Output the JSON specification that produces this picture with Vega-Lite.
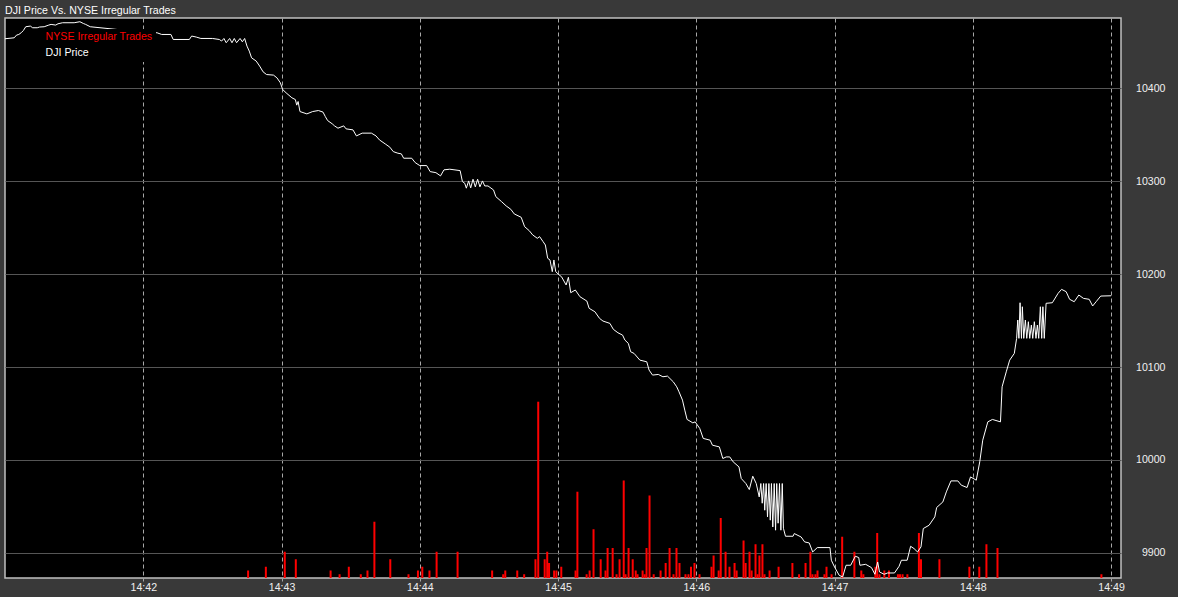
{
  "$schema": "https://vega.github.io/schema/vega-lite/v6.json",
  "autosize": {"type": "none"},
  "padding": {"left": 5, "top": 18, "right": 57, "bottom": 19},
  "width": 1116,
  "height": 560,
  "background": "#393939",
  "title": {"text": "DJI Price Vs. NYSE Irregular Trades", "anchor": "start", "frame": "group", "color": "#ffffff", "font": "Liberation Sans", "fontSize": 10.6, "fontWeight": "normal", "offset": 1},
  "datasets": {
    "trades": [
      {"time": "2010-05-06T14:42:45.500", "count": 2},
      {"time": "2010-05-06T14:42:53.200", "count": 3},
      {"time": "2010-05-06T14:43:01.400", "count": 7},
      {"time": "2010-05-06T14:43:06.200", "count": 5},
      {"time": "2010-05-06T14:43:21.300", "count": 2},
      {"time": "2010-05-06T14:43:25.200", "count": 1},
      {"time": "2010-05-06T14:43:29.200", "count": 3},
      {"time": "2010-05-06T14:43:34.400", "count": 1},
      {"time": "2010-05-06T14:43:37.300", "count": 2},
      {"time": "2010-05-06T14:43:40.300", "count": 15},
      {"time": "2010-05-06T14:43:47.200", "count": 5},
      {"time": "2010-05-06T14:43:55.100", "count": 1},
      {"time": "2010-05-06T14:43:59.200", "count": 2},
      {"time": "2010-05-06T14:44:01.100", "count": 3},
      {"time": "2010-05-06T14:44:04.200", "count": 2},
      {"time": "2010-05-06T14:44:07.300", "count": 7},
      {"time": "2010-05-06T14:44:16.400", "count": 7},
      {"time": "2010-05-06T14:44:31.400", "count": 2},
      {"time": "2010-05-06T14:44:36.200", "count": 1},
      {"time": "2010-05-06T14:44:37.100", "count": 2},
      {"time": "2010-05-06T14:44:42.300", "count": 2},
      {"time": "2010-05-06T14:44:45.300", "count": 1},
      {"time": "2010-05-06T14:44:50.200", "count": 5},
      {"time": "2010-05-06T14:44:51.400", "count": 47},
      {"time": "2010-05-06T14:44:54.200", "count": 5},
      {"time": "2010-05-06T14:44:55.300", "count": 7},
      {"time": "2010-05-06T14:44:56.100", "count": 4},
      {"time": "2010-05-06T14:44:58.300", "count": 2},
      {"time": "2010-05-06T14:44:59.300", "count": 2},
      {"time": "2010-05-06T14:45:01.400", "count": 3},
      {"time": "2010-05-06T14:45:07.600", "count": 2},
      {"time": "2010-05-06T14:45:08.400", "count": 23},
      {"time": "2010-05-06T14:45:12.400", "count": 1},
      {"time": "2010-05-06T14:45:13.700", "count": 2},
      {"time": "2010-05-06T14:45:15.400", "count": 13},
      {"time": "2010-05-06T14:45:18.500", "count": 5},
      {"time": "2010-05-06T14:45:20.600", "count": 2},
      {"time": "2010-05-06T14:45:21.500", "count": 8},
      {"time": "2010-05-06T14:45:23.700", "count": 8},
      {"time": "2010-05-06T14:45:25.400", "count": 1},
      {"time": "2010-05-06T14:45:26.700", "count": 5},
      {"time": "2010-05-06T14:45:28.500", "count": 26},
      {"time": "2010-05-06T14:45:29.300", "count": 1},
      {"time": "2010-05-06T14:45:30.600", "count": 8},
      {"time": "2010-05-06T14:45:32.400", "count": 5},
      {"time": "2010-05-06T14:45:33.700", "count": 2},
      {"time": "2010-05-06T14:45:34.500", "count": 1},
      {"time": "2010-05-06T14:45:36.700", "count": 2},
      {"time": "2010-05-06T14:45:37.600", "count": 1},
      {"time": "2010-05-06T14:45:38.400", "count": 8},
      {"time": "2010-05-06T14:45:39.700", "count": 22},
      {"time": "2010-05-06T14:45:41.500", "count": 1},
      {"time": "2010-05-06T14:45:44.500", "count": 2},
      {"time": "2010-05-06T14:45:46.700", "count": 4},
      {"time": "2010-05-06T14:45:48.400", "count": 8},
      {"time": "2010-05-06T14:45:50.100", "count": 1},
      {"time": "2010-05-06T14:45:51.400", "count": 8},
      {"time": "2010-05-06T14:45:52.700", "count": 4},
      {"time": "2010-05-06T14:45:55.300", "count": 1},
      {"time": "2010-05-06T14:45:56.600", "count": 1},
      {"time": "2010-05-06T14:45:57.700", "count": 3},
      {"time": "2010-05-06T14:45:59.200", "count": 4},
      {"time": "2010-05-06T14:46:01.400", "count": 1},
      {"time": "2010-05-06T14:46:06.600", "count": 3},
      {"time": "2010-05-06T14:46:07.500", "count": 6},
      {"time": "2010-05-06T14:46:09.700", "count": 2},
      {"time": "2010-05-06T14:46:10.600", "count": 16},
      {"time": "2010-05-06T14:46:12.700", "count": 7},
      {"time": "2010-05-06T14:46:14.400", "count": 3},
      {"time": "2010-05-06T14:46:16.600", "count": 4},
      {"time": "2010-05-06T14:46:17.500", "count": 2},
      {"time": "2010-05-06T14:46:20.500", "count": 10},
      {"time": "2010-05-06T14:46:21.400", "count": 4},
      {"time": "2010-05-06T14:46:23.100", "count": 7},
      {"time": "2010-05-06T14:46:24.000", "count": 2},
      {"time": "2010-05-06T14:46:25.700", "count": 9},
      {"time": "2010-05-06T14:46:26.600", "count": 1},
      {"time": "2010-05-06T14:46:27.400", "count": 6},
      {"time": "2010-05-06T14:46:28.700", "count": 9},
      {"time": "2010-05-06T14:46:29.600", "count": 1},
      {"time": "2010-05-06T14:46:31.800", "count": 2},
      {"time": "2010-05-06T14:46:35.700", "count": 3},
      {"time": "2010-05-06T14:46:41.700", "count": 4},
      {"time": "2010-05-06T14:46:44.600", "count": 1},
      {"time": "2010-05-06T14:46:47.400", "count": 4},
      {"time": "2010-05-06T14:46:49.500", "count": 7},
      {"time": "2010-05-06T14:46:50.400", "count": 1},
      {"time": "2010-05-06T14:46:51.700", "count": 1},
      {"time": "2010-05-06T14:46:52.600", "count": 2},
      {"time": "2010-05-06T14:46:55.600", "count": 1},
      {"time": "2010-05-06T14:46:56.500", "count": 3},
      {"time": "2010-05-06T14:46:58.700", "count": 1},
      {"time": "2010-05-06T14:47:03.300", "count": 11},
      {"time": "2010-05-06T14:47:08.600", "count": 7},
      {"time": "2010-05-06T14:47:11.600", "count": 2},
      {"time": "2010-05-06T14:47:12.500", "count": 1},
      {"time": "2010-05-06T14:47:17.700", "count": 3},
      {"time": "2010-05-06T14:47:18.500", "count": 12},
      {"time": "2010-05-06T14:47:19.500", "count": 1},
      {"time": "2010-05-06T14:47:21.600", "count": 2},
      {"time": "2010-05-06T14:47:23.600", "count": 2},
      {"time": "2010-05-06T14:47:27.500", "count": 1},
      {"time": "2010-05-06T14:47:28.400", "count": 1},
      {"time": "2010-05-06T14:47:29.500", "count": 1},
      {"time": "2010-05-06T14:47:31.600", "count": 1},
      {"time": "2010-05-06T14:47:36.600", "count": 12},
      {"time": "2010-05-06T14:47:37.500", "count": 5},
      {"time": "2010-05-06T14:47:45.500", "count": 5},
      {"time": "2010-05-06T14:47:58.500", "count": 3},
      {"time": "2010-05-06T14:48:02.800", "count": 3},
      {"time": "2010-05-06T14:48:05.900", "count": 9},
      {"time": "2010-05-06T14:48:10.700", "count": 8},
      {"time": "2010-05-06T14:48:55.800", "count": 1}
    ],
    "dji": [
      {"time": "2010-05-06T14:41:00", "price": 10453.0},
      {"time": "2010-05-06T14:41:04", "price": 10454.0},
      {"time": "2010-05-06T14:41:05", "price": 10456.9},
      {"time": "2010-05-06T14:41:06", "price": 10457.6},
      {"time": "2010-05-06T14:41:07", "price": 10459.4},
      {"time": "2010-05-06T14:41:08", "price": 10461.9},
      {"time": "2010-05-06T14:41:09", "price": 10465.9},
      {"time": "2010-05-06T14:41:11", "price": 10466.6},
      {"time": "2010-05-06T14:41:12", "price": 10464.8},
      {"time": "2010-05-06T14:41:14", "price": 10464.8},
      {"time": "2010-05-06T14:41:15", "price": 10465.6},
      {"time": "2010-05-06T14:41:17", "price": 10465.9},
      {"time": "2010-05-06T14:41:19", "price": 10467.7},
      {"time": "2010-05-06T14:41:20", "price": 10468.4},
      {"time": "2010-05-06T14:41:22", "price": 10467.7},
      {"time": "2010-05-06T14:41:23", "price": 10469.1},
      {"time": "2010-05-06T14:41:25", "price": 10470.2},
      {"time": "2010-05-06T14:41:30", "price": 10470.2},
      {"time": "2010-05-06T14:41:32.500", "price": 10471.3},
      {"time": "2010-05-06T14:41:34", "price": 10469.4},
      {"time": "2010-05-06T14:41:35", "price": 10468.4},
      {"time": "2010-05-06T14:41:37", "price": 10465.9},
      {"time": "2010-05-06T14:41:50", "price": 10462.6},
      {"time": "2010-05-06T14:41:58", "price": 10460.5},
      {"time": "2010-05-06T14:42:06", "price": 10459.4},
      {"time": "2010-05-06T14:42:08", "price": 10457.6},
      {"time": "2010-05-06T14:42:12", "price": 10457.6},
      {"time": "2010-05-06T14:42:13", "price": 10452.2},
      {"time": "2010-05-06T14:42:20", "price": 10452.2},
      {"time": "2010-05-06T14:42:21", "price": 10455.9},
      {"time": "2010-05-06T14:42:23", "price": 10454.8},
      {"time": "2010-05-06T14:42:25", "price": 10453.3},
      {"time": "2010-05-06T14:42:30", "price": 10453.3},
      {"time": "2010-05-06T14:42:33", "price": 10452.2},
      {"time": "2010-05-06T14:42:34", "price": 10450.5},
      {"time": "2010-05-06T14:42:35", "price": 10453.3},
      {"time": "2010-05-06T14:42:36", "price": 10448.7},
      {"time": "2010-05-06T14:42:37.500", "price": 10453.3},
      {"time": "2010-05-06T14:42:38.500", "price": 10448.7},
      {"time": "2010-05-06T14:42:39.500", "price": 10453.3},
      {"time": "2010-05-06T14:42:40.500", "price": 10448.7},
      {"time": "2010-05-06T14:42:42", "price": 10453.3},
      {"time": "2010-05-06T14:42:43", "price": 10449.7},
      {"time": "2010-05-06T14:42:44", "price": 10453.3},
      {"time": "2010-05-06T14:42:45", "price": 10445.1},
      {"time": "2010-05-06T14:42:46", "price": 10439.7},
      {"time": "2010-05-06T14:42:47", "price": 10432.5},
      {"time": "2010-05-06T14:42:49", "price": 10429.0},
      {"time": "2010-05-06T14:42:50.500", "price": 10423.6},
      {"time": "2010-05-06T14:42:52", "price": 10417.4},
      {"time": "2010-05-06T14:42:53.500", "price": 10414.5},
      {"time": "2010-05-06T14:42:56.500", "price": 10413.9},
      {"time": "2010-05-06T14:42:58", "price": 10411.0},
      {"time": "2010-05-06T14:42:59.500", "price": 10405.6},
      {"time": "2010-05-06T14:43:00.500", "price": 10398.4},
      {"time": "2010-05-06T14:43:02", "price": 10394.8},
      {"time": "2010-05-06T14:43:04.500", "price": 10389.5},
      {"time": "2010-05-06T14:43:06", "price": 10387.6},
      {"time": "2010-05-06T14:43:06.600", "price": 10381.6},
      {"time": "2010-05-06T14:43:07.200", "price": 10385.5},
      {"time": "2010-05-06T14:43:08", "price": 10374.7},
      {"time": "2010-05-06T14:43:11", "price": 10372.2},
      {"time": "2010-05-06T14:43:13.500", "price": 10374.7},
      {"time": "2010-05-06T14:43:16", "price": 10375.8},
      {"time": "2010-05-06T14:43:18", "price": 10374.1},
      {"time": "2010-05-06T14:43:19", "price": 10369.3},
      {"time": "2010-05-06T14:43:20", "price": 10365.0},
      {"time": "2010-05-06T14:43:22", "price": 10361.5},
      {"time": "2010-05-06T14:43:23", "price": 10359.3},
      {"time": "2010-05-06T14:43:24.500", "price": 10356.8},
      {"time": "2010-05-06T14:43:27", "price": 10359.3},
      {"time": "2010-05-06T14:43:28", "price": 10356.1},
      {"time": "2010-05-06T14:43:31", "price": 10355.0},
      {"time": "2010-05-06T14:43:32.500", "price": 10348.5},
      {"time": "2010-05-06T14:43:35", "price": 10351.5},
      {"time": "2010-05-06T14:43:39", "price": 10351.5},
      {"time": "2010-05-06T14:43:41", "price": 10348.5},
      {"time": "2010-05-06T14:43:42.500", "price": 10344.2},
      {"time": "2010-05-06T14:43:45", "price": 10339.9},
      {"time": "2010-05-06T14:43:47", "price": 10336.4},
      {"time": "2010-05-06T14:43:48.500", "price": 10331.6},
      {"time": "2010-05-06T14:43:50.500", "price": 10329.9},
      {"time": "2010-05-06T14:43:52", "price": 10329.2},
      {"time": "2010-05-06T14:43:53", "price": 10324.5},
      {"time": "2010-05-06T14:43:56.500", "price": 10324.5},
      {"time": "2010-05-06T14:43:58", "price": 10319.8},
      {"time": "2010-05-06T14:44:00", "price": 10316.6},
      {"time": "2010-05-06T14:44:03", "price": 10316.6},
      {"time": "2010-05-06T14:44:04.500", "price": 10310.1},
      {"time": "2010-05-06T14:44:07", "price": 10309.0},
      {"time": "2010-05-06T14:44:09", "price": 10305.5},
      {"time": "2010-05-06T14:44:10.500", "price": 10312.0},
      {"time": "2010-05-06T14:44:13", "price": 10312.7},
      {"time": "2010-05-06T14:44:17.500", "price": 10311.2},
      {"time": "2010-05-06T14:44:18.500", "price": 10299.4},
      {"time": "2010-05-06T14:44:19.500", "price": 10297.6},
      {"time": "2010-05-06T14:44:20.200", "price": 10292.3},
      {"time": "2010-05-06T14:44:21.200", "price": 10300.1},
      {"time": "2010-05-06T14:44:22.100", "price": 10292.6},
      {"time": "2010-05-06T14:44:23.100", "price": 10301.9},
      {"time": "2010-05-06T14:44:24.100", "price": 10293.7},
      {"time": "2010-05-06T14:44:25.100", "price": 10301.9},
      {"time": "2010-05-06T14:44:26.100", "price": 10293.7},
      {"time": "2010-05-06T14:44:27.200", "price": 10300.1},
      {"time": "2010-05-06T14:44:28.200", "price": 10294.7},
      {"time": "2010-05-06T14:44:29.600", "price": 10294.7},
      {"time": "2010-05-06T14:44:32", "price": 10290.4},
      {"time": "2010-05-06T14:44:33", "price": 10283.2},
      {"time": "2010-05-06T14:44:35.500", "price": 10277.8},
      {"time": "2010-05-06T14:44:37.500", "price": 10273.2},
      {"time": "2010-05-06T14:44:39.500", "price": 10269.6},
      {"time": "2010-05-06T14:44:41", "price": 10264.6},
      {"time": "2010-05-06T14:44:44", "price": 10261.0},
      {"time": "2010-05-06T14:44:45.500", "price": 10250.9},
      {"time": "2010-05-06T14:44:47.500", "price": 10246.6},
      {"time": "2010-05-06T14:44:49", "price": 10242.0},
      {"time": "2010-05-06T14:44:51", "price": 10238.4},
      {"time": "2010-05-06T14:44:52", "price": 10240.2},
      {"time": "2010-05-06T14:44:53.500", "price": 10234.8},
      {"time": "2010-05-06T14:44:54.500", "price": 10231.2},
      {"time": "2010-05-06T14:44:55.500", "price": 10216.9},
      {"time": "2010-05-06T14:44:56.500", "price": 10215.1},
      {"time": "2010-05-06T14:44:57.500", "price": 10202.5},
      {"time": "2010-05-06T14:44:58.200", "price": 10215.1},
      {"time": "2010-05-06T14:44:59", "price": 10202.5},
      {"time": "2010-05-06T14:45:00.500", "price": 10198.9},
      {"time": "2010-05-06T14:45:01.500", "price": 10197.1},
      {"time": "2010-05-06T14:45:03.500", "price": 10188.2},
      {"time": "2010-05-06T14:45:04.500", "price": 10196.5},
      {"time": "2010-05-06T14:45:05.500", "price": 10179.9},
      {"time": "2010-05-06T14:45:07.500", "price": 10182.8},
      {"time": "2010-05-06T14:45:09.500", "price": 10175.6},
      {"time": "2010-05-06T14:45:12.500", "price": 10170.9},
      {"time": "2010-05-06T14:45:13.500", "price": 10163.1},
      {"time": "2010-05-06T14:45:16", "price": 10159.4},
      {"time": "2010-05-06T14:45:18", "price": 10152.3},
      {"time": "2010-05-06T14:45:19.500", "price": 10149.4},
      {"time": "2010-05-06T14:45:22.500", "price": 10146.9},
      {"time": "2010-05-06T14:45:24", "price": 10140.5},
      {"time": "2010-05-06T14:45:26", "price": 10136.8},
      {"time": "2010-05-06T14:45:28", "price": 10134.3},
      {"time": "2010-05-06T14:45:29", "price": 10129.0},
      {"time": "2010-05-06T14:45:30.500", "price": 10125.4},
      {"time": "2010-05-06T14:45:31.500", "price": 10116.4},
      {"time": "2010-05-06T14:45:33", "price": 10114.6},
      {"time": "2010-05-06T14:45:35.500", "price": 10107.4},
      {"time": "2010-05-06T14:45:38.500", "price": 10105.6},
      {"time": "2010-05-06T14:45:39.500", "price": 10096.7},
      {"time": "2010-05-06T14:45:41", "price": 10091.3},
      {"time": "2010-05-06T14:45:43.500", "price": 10092.0},
      {"time": "2010-05-06T14:45:45.500", "price": 10089.5},
      {"time": "2010-05-06T14:45:47.500", "price": 10090.2},
      {"time": "2010-05-06T14:45:50", "price": 10084.1},
      {"time": "2010-05-06T14:45:51.500", "price": 10078.7},
      {"time": "2010-05-06T14:45:52.500", "price": 10073.3},
      {"time": "2010-05-06T14:45:54", "price": 10064.4},
      {"time": "2010-05-06T14:45:55", "price": 10053.6},
      {"time": "2010-05-06T14:45:56", "price": 10043.6},
      {"time": "2010-05-06T14:45:58.500", "price": 10039.9},
      {"time": "2010-05-06T14:45:59.500", "price": 10041.0},
      {"time": "2010-05-06T14:46:01.500", "price": 10033.9},
      {"time": "2010-05-06T14:46:03", "price": 10023.2},
      {"time": "2010-05-06T14:46:06", "price": 10021.3},
      {"time": "2010-05-06T14:46:07", "price": 10015.9},
      {"time": "2010-05-06T14:46:10", "price": 10014.1},
      {"time": "2010-05-06T14:46:11.500", "price": 10001.6},
      {"time": "2010-05-06T14:46:13", "price": 10003.3},
      {"time": "2010-05-06T14:46:14.500", "price": 10003.3},
      {"time": "2010-05-06T14:46:16", "price": 9998.0},
      {"time": "2010-05-06T14:46:18.500", "price": 9992.6},
      {"time": "2010-05-06T14:46:19.500", "price": 9980.1},
      {"time": "2010-05-06T14:46:21.500", "price": 9974.7},
      {"time": "2010-05-06T14:46:23", "price": 9968.2},
      {"time": "2010-05-06T14:46:24.500", "price": 9982.6},
      {"time": "2010-05-06T14:46:26", "price": 9974.7},
      {"time": "2010-05-06T14:46:27.300", "price": 9960.3},
      {"time": "2010-05-06T14:46:28", "price": 9974.7},
      {"time": "2010-05-06T14:46:28.600", "price": 9953.5},
      {"time": "2010-05-06T14:46:29.200", "price": 9974.7},
      {"time": "2010-05-06T14:46:29.700", "price": 9946.0},
      {"time": "2010-05-06T14:46:30.300", "price": 9974.7},
      {"time": "2010-05-06T14:46:30.900", "price": 9938.8},
      {"time": "2010-05-06T14:46:31.500", "price": 9974.7},
      {"time": "2010-05-06T14:46:32.100", "price": 9935.3},
      {"time": "2010-05-06T14:46:32.600", "price": 9974.7},
      {"time": "2010-05-06T14:46:33.200", "price": 9928.0},
      {"time": "2010-05-06T14:46:33.800", "price": 9974.7},
      {"time": "2010-05-06T14:46:34.400", "price": 9924.5},
      {"time": "2010-05-06T14:46:34.900", "price": 9974.7},
      {"time": "2010-05-06T14:46:35.500", "price": 9932.0},
      {"time": "2010-05-06T14:46:36.100", "price": 9974.7},
      {"time": "2010-05-06T14:46:36.700", "price": 9924.5},
      {"time": "2010-05-06T14:46:37.300", "price": 9974.7},
      {"time": "2010-05-06T14:46:37.800", "price": 9926.6},
      {"time": "2010-05-06T14:46:38.700", "price": 9918.0},
      {"time": "2010-05-06T14:46:42", "price": 9918.0},
      {"time": "2010-05-06T14:46:42.500", "price": 9920.9},
      {"time": "2010-05-06T14:46:45.500", "price": 9917.2},
      {"time": "2010-05-06T14:46:47", "price": 9911.9},
      {"time": "2010-05-06T14:46:49", "price": 9910.8},
      {"time": "2010-05-06T14:46:50.500", "price": 9901.1},
      {"time": "2010-05-06T14:46:52.500", "price": 9905.8},
      {"time": "2010-05-06T14:46:58", "price": 9905.8},
      {"time": "2010-05-06T14:46:58.600", "price": 9892.2},
      {"time": "2010-05-06T14:47:00", "price": 9884.9},
      {"time": "2010-05-06T14:47:02", "price": 9876.0},
      {"time": "2010-05-06T14:47:03.500", "price": 9874.2},
      {"time": "2010-05-06T14:47:05", "price": 9886.8},
      {"time": "2010-05-06T14:47:07", "price": 9886.8},
      {"time": "2010-05-06T14:47:09", "price": 9896.5},
      {"time": "2010-05-06T14:47:10.500", "price": 9895.1},
      {"time": "2010-05-06T14:47:11", "price": 9886.8},
      {"time": "2010-05-06T14:47:13.500", "price": 9887.8},
      {"time": "2010-05-06T14:47:16", "price": 9884.3},
      {"time": "2010-05-06T14:47:17.500", "price": 9877.1},
      {"time": "2010-05-06T14:47:18.700", "price": 9890.3},
      {"time": "2010-05-06T14:47:19.500", "price": 9879.6},
      {"time": "2010-05-06T14:47:21.500", "price": 9877.1},
      {"time": "2010-05-06T14:47:23", "price": 9878.5},
      {"time": "2010-05-06T14:47:26", "price": 9878.5},
      {"time": "2010-05-06T14:47:28", "price": 9885.7},
      {"time": "2010-05-06T14:47:29", "price": 9892.2},
      {"time": "2010-05-06T14:47:31.500", "price": 9892.2},
      {"time": "2010-05-06T14:47:33", "price": 9907.2},
      {"time": "2010-05-06T14:47:34.500", "price": 9904.7},
      {"time": "2010-05-06T14:47:36", "price": 9901.1},
      {"time": "2010-05-06T14:47:37.500", "price": 9906.5},
      {"time": "2010-05-06T14:47:38.500", "price": 9926.3},
      {"time": "2010-05-06T14:47:41", "price": 9929.8},
      {"time": "2010-05-06T14:47:43.500", "price": 9938.8},
      {"time": "2010-05-06T14:47:44.300", "price": 9948.9},
      {"time": "2010-05-06T14:47:47", "price": 9954.9},
      {"time": "2010-05-06T14:47:48.500", "price": 9965.7},
      {"time": "2010-05-06T14:47:50.500", "price": 9977.5},
      {"time": "2010-05-06T14:47:53.500", "price": 9977.5},
      {"time": "2010-05-06T14:47:55", "price": 9972.9},
      {"time": "2010-05-06T14:47:57.500", "price": 9970.4},
      {"time": "2010-05-06T14:47:59", "price": 9981.8},
      {"time": "2010-05-06T14:48:01.500", "price": 9978.3},
      {"time": "2010-05-06T14:48:03", "price": 9998.0},
      {"time": "2010-05-06T14:48:04.300", "price": 10021.3},
      {"time": "2010-05-06T14:48:06.500", "price": 10041.0},
      {"time": "2010-05-06T14:48:08.500", "price": 10043.6},
      {"time": "2010-05-06T14:48:12", "price": 10041.0},
      {"time": "2010-05-06T14:48:12.700", "price": 10078.7},
      {"time": "2010-05-06T14:48:14.500", "price": 10094.8},
      {"time": "2010-05-06T14:48:16", "price": 10107.4},
      {"time": "2010-05-06T14:48:18", "price": 10114.6},
      {"time": "2010-05-06T14:48:19", "price": 10130.8},
      {"time": "2010-05-06T14:48:19.500", "price": 10150.5},
      {"time": "2010-05-06T14:48:20", "price": 10130.8},
      {"time": "2010-05-06T14:48:20.500", "price": 10169.1},
      {"time": "2010-05-06T14:48:21.100", "price": 10130.8},
      {"time": "2010-05-06T14:48:21.500", "price": 10164.8},
      {"time": "2010-05-06T14:48:22.100", "price": 10130.8},
      {"time": "2010-05-06T14:48:22.800", "price": 10150.5},
      {"time": "2010-05-06T14:48:23.400", "price": 10130.8},
      {"time": "2010-05-06T14:48:24.100", "price": 10148.7},
      {"time": "2010-05-06T14:48:24.700", "price": 10130.8},
      {"time": "2010-05-06T14:48:25.400", "price": 10145.1},
      {"time": "2010-05-06T14:48:26", "price": 10130.8},
      {"time": "2010-05-06T14:48:26.700", "price": 10148.7},
      {"time": "2010-05-06T14:48:27.400", "price": 10130.8},
      {"time": "2010-05-06T14:48:28", "price": 10145.1},
      {"time": "2010-05-06T14:48:28.600", "price": 10130.8},
      {"time": "2010-05-06T14:48:29.300", "price": 10164.8},
      {"time": "2010-05-06T14:48:29.900", "price": 10130.8},
      {"time": "2010-05-06T14:48:30.400", "price": 10164.8},
      {"time": "2010-05-06T14:48:31", "price": 10130.8},
      {"time": "2010-05-06T14:48:31.800", "price": 10168.5},
      {"time": "2010-05-06T14:48:34.500", "price": 10169.1},
      {"time": "2010-05-06T14:48:37", "price": 10179.2},
      {"time": "2010-05-06T14:48:38.500", "price": 10183.5},
      {"time": "2010-05-06T14:48:40.500", "price": 10181.0},
      {"time": "2010-05-06T14:48:42", "price": 10172.8},
      {"time": "2010-05-06T14:48:44", "price": 10170.2},
      {"time": "2010-05-06T14:48:46", "price": 10177.4},
      {"time": "2010-05-06T14:48:48", "price": 10173.8},
      {"time": "2010-05-06T14:48:50.500", "price": 10172.8},
      {"time": "2010-05-06T14:48:52", "price": 10165.6},
      {"time": "2010-05-06T14:48:53.500", "price": 10170.2},
      {"time": "2010-05-06T14:48:55.500", "price": 10176.3},
      {"time": "2010-05-06T14:49:00", "price": 10176.6}
    ]
  },
  "encoding": {
    "x": {
      "field": "time",
      "type": "temporal",
      "title": null,
      "scale": {"domain": [
        {"year": 2010, "month": 5, "date": 6, "hours": 14, "minutes": 41, "seconds": 0},
        {"year": 2010, "month": 5, "date": 6, "hours": 14, "minutes": 49, "seconds": 4, "milliseconds": 300}
      ], "nice": false, "padding": 0},
      "axis": {
        "values": [
          {"year": 2010, "month": 5, "date": 6, "hours": 14, "minutes": 42},
          {"year": 2010, "month": 5, "date": 6, "hours": 14, "minutes": 43},
          {"year": 2010, "month": 5, "date": 6, "hours": 14, "minutes": 44},
          {"year": 2010, "month": 5, "date": 6, "hours": 14, "minutes": 45},
          {"year": 2010, "month": 5, "date": 6, "hours": 14, "minutes": 46},
          {"year": 2010, "month": 5, "date": 6, "hours": 14, "minutes": 47},
          {"year": 2010, "month": 5, "date": 6, "hours": 14, "minutes": 48},
          {"year": 2010, "month": 5, "date": 6, "hours": 14, "minutes": 49}
        ],
        "format": "%H:%M",
        "grid": true,
        "gridColor": "#a8a8a8",
        "gridDash": [4, 3],
        "gridWidth": 1,
        "domain": false,
        "ticks": true,
        "tickSize": 3,
        "tickColor": "#a8a8a8",
        "labelColor": "#f0f0f0",
        "labelFont": "Liberation Sans",
        "labelFontSize": 10.6,
        "labelPadding": 1,
        "labelDx": -4,
        "labelFlush": false
      }
    }
  },
  "layer": [
    {
      "data": {"name": "trades"},
      "mark": {"type": "bar", "width": 2},
      "encoding": {
        "y": {"field": "count", "type": "quantitative", "scale": {"domain": [0, 149.3], "nice": false}, "axis": null},
        "color": {
          "datum": "NYSE Irregular Trades",
          "title": null,
          "scale": {"domain": ["NYSE Irregular Trades", "DJI Price"], "range": ["#ff0000", "#ffffff"]},
          "legend": {
            "orient": "none",
            "legendX": 27,
            "legendY": 11,
            "fillColor": "#000000",
            "padding": 3,
            "symbolSize": 0,
            "symbolOpacity": 0,
            "symbolStrokeWidth": 0,
            "labelOffset": 0,
            "labelFont": "Liberation Sans",
            "labelFontSize": 10.6,
            "rowPadding": 4.4,
            "encode": {"labels": {"update": {"fill": {"signal": "datum.label === 'DJI Price' ? '#ffffff' : '#ff0000'"}}}}
          }
        }
      }
    },
    {
      "data": {"name": "dji"},
      "mark": {"type": "line", "strokeWidth": 1, "interpolate": "linear"},
      "encoding": {
        "y": {
          "field": "price",
          "type": "quantitative",
          "title": null,
          "scale": {"domain": [9873.1, 10475.3], "nice": false, "zero": false},
          "axis": {
            "orient": "right",
            "values": [9900, 10000, 10100, 10200, 10300, 10400],
            "format": "d",
            "grid": true,
            "gridColor": "#555555",
            "gridWidth": 1,
            "domain": false,
            "ticks": false,
            "labelAlign": "right",
            "labelPadding": 44,
            "labelColor": "#f0f0f0",
            "labelFont": "Liberation Sans",
            "labelFontSize": 10.6
          }
        },
        "color": {"datum": "DJI Price"}
      }
    }
  ],
  "resolve": {"scale": {"y": "independent"}},
  "config": {
    "view": {"fill": "#000000", "stroke": "#c0c0c0", "strokeWidth": 1.5},
    "font": "Liberation Sans"
  }
}
